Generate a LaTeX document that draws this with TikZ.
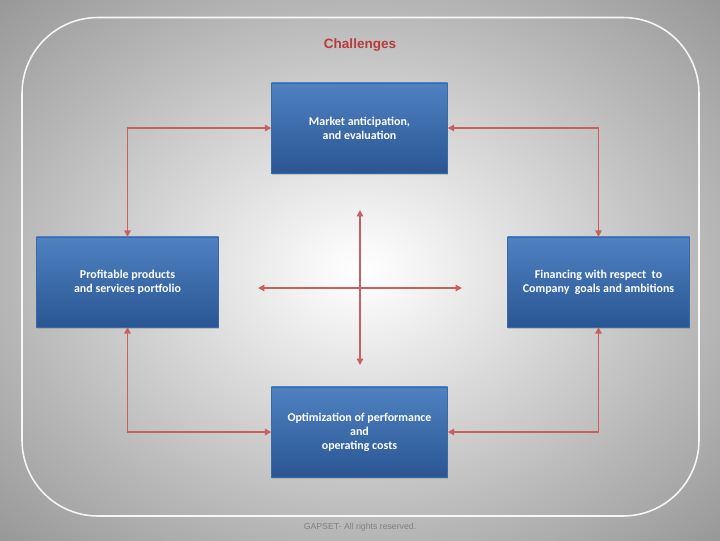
\documentclass[tikz,border=0pt]{standalone}
\usepackage{fontspec}
\setmainfont{Liberation Sans}
\newfontfamily\boxfont{Carlito}
\usetikzlibrary{arrows.meta, positioning, calc, shadows}
\definecolor{cred}{HTML}{C0504D}
\definecolor{ctitle}{HTML}{B83B3B}
\definecolor{btop}{HTML}{4F82C2}
\definecolor{bbot}{HTML}{2A5593}
\definecolor{bedge}{HTML}{3B69A8}
\pgfdeclareradialshading{bgshade}{\pgfpoint{0bp}{0bp}}{%
    color(0bp)=(white); color(3bp)=(black!3); color(25bp)=(black!29); color(36bp)=(black!41); color(50bp)=(black!42)}

\begin{document}
\begin{tikzpicture}[
    x=0.025cm, y=-0.025cm,
    box/.style={rectangle, minimum height=2.25cm, align=center, text=white,
        font=\boxfont\fontsize{8.5}{10}\selectfont\bfseries,
        top color=btop, bottom color=bbot, draw=bedge, line width=0.3pt,
        drop shadow={opacity=0.35, shadow xshift=0.5pt, shadow yshift=-1.6pt}},
    arr/.style={{Triangle[length=4.5pt, width=4.5pt]}-{Triangle[length=4.5pt, width=4.5pt]}, line width=1.3pt, cred!90!white},
]
\useasboundingbox (0,0) rectangle (720,540);

% === BACKGROUND ===
\shade[shading=bgshade] (0,0) rectangle (720,540);
\draw[white, opacity=0.9, line width=1.1pt, rounded corners=1.9cm] (22,17.5) rectangle (699,516);

% === TITLE AND FOOTER ===
\node[font=\fontsize{9.6}{11}\selectfont\bfseries, text=ctitle] (title) at (360,45) {Challenges};
\node[font=\fontsize{6.2}{7}\selectfont, text=black!50] (footer) at (360,527) {GAPSET- All rights reserved.};

% === BOXES ===
\node[box, minimum width=4.4cm] (market) at (359.5,128) {Market anticipation,\\and evaluation};
\node[box, minimum width=4.55cm] (products) at (127.5,282) {Profitable products\\and services portfolio};
\node[box, minimum width=4.55cm] (financing) at (598.5,282) {Financing with respect\ \ to\\Company\ \ goals and ambitions};
\node[box, minimum width=4.4cm] (costs) at (359.5,432) {Optimization of performance\\and\\operating costs};

% === CONNECTORS between boxes ===
\draw[arr] (products) |- (market);
\draw[arr] (financing) |- (market);
\draw[arr] (products) |- (costs);
\draw[arr] (financing) |- (costs);

% === CROSS in the middle ===
\coordinate (crossW) at (258,288);
\coordinate (crossE) at (462,288);
\coordinate (crossN) at (360,210);
\coordinate (crossS) at (360,365);
\draw[arr] (crossW) -- (crossE);
\draw[arr] (crossN) -- (crossS);

\end{tikzpicture}
\end{document}
